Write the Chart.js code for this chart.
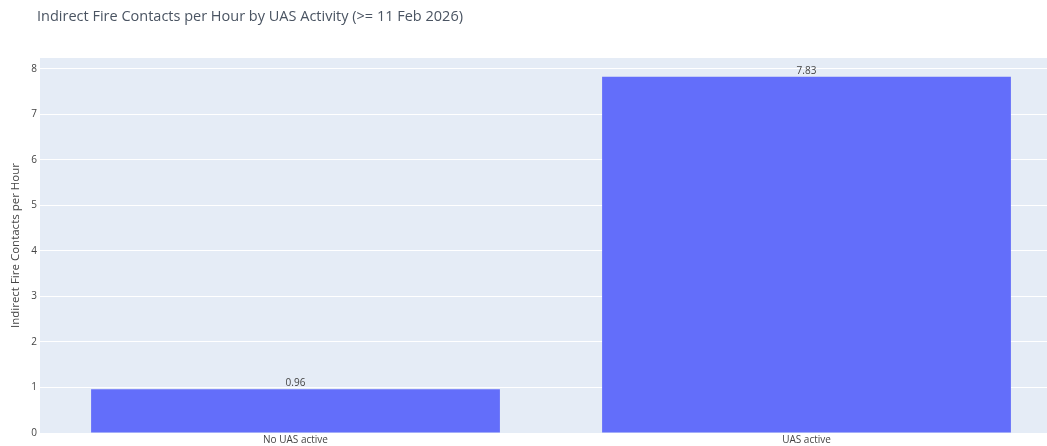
<!DOCTYPE html>
<html>
<head>
<meta charset="utf-8">
<script src="https://cdn.jsdelivr.net/npm/chart.js@4"></script>
<style>
  html, body { margin: 0; padding: 0; background: #fff; overflow: hidden; }
  #clip { width: 1047px; height: 446px; overflow: hidden; }
  /* plot area runs past the right edge of the picture, as in the reference */
  #wrap { width: 1062px; height: 446px; position: relative; }
</style>
</head>
<body>
<div id="clip"><div id="wrap"><canvas id="chart"></canvas></div></div>
<script>
const titleText = 'Indirect Fire Contacts per Hour by UAS Activity (>= 11 Feb 2026)';
const yTitle = 'Indirect Fire Contacts per Hour';
const categories = ['No UAS active', 'UAS active'];
const rates = [0.96, 7.83];
const rateLabels = ['0.96', '7.83'];

const FONT = '"Open Sans", verdana, arial, sans-serif';

// plot background + title + bar text
const plotlyLook = {
  id: 'plotlyLook',
  beforeDraw(chart) {
    const { ctx, chartArea: a } = chart;
    ctx.save();
    ctx.fillStyle = '#E5ECF6';
    ctx.fillRect(a.left, a.top, a.right - a.left, a.bottom - a.top);
    ctx.restore();
  },
  afterDraw(chart) {
    const ctx = chart.ctx;
    ctx.save();
    ctx.fillStyle = '#4a5462';
    ctx.font = '14.5px ' + FONT;
    ctx.textBaseline = 'middle';
    ctx.textAlign = 'left';
    ctx.fillText(titleText, 37, 17);

    ctx.fillStyle = '#444';
    ctx.font = '10px ' + FONT;
    ctx.textAlign = 'center';
    ctx.textBaseline = 'bottom';
    chart.getDatasetMeta(0).data.forEach((bar, i) => {
      ctx.fillText(rateLabels[i], bar.x, bar.y - 1);
    });
    ctx.restore();
  }
};

new Chart(document.getElementById('chart'), {
  type: 'bar',
  data: {
    labels: categories,
    datasets: [{
      data: rates,
      backgroundColor: '#636EFA',
      borderWidth: 0,
      barPercentage: 0.8,
      categoryPercentage: 1
    }]
  },
  options: {
    responsive: true,
    maintainAspectRatio: false,
    animation: false,
    layout: { padding: { top: 58, right: 0, bottom: 0, left: 0 } },
    plugins: {
      legend: { display: false },
      tooltip: { enabled: false }
    },
    scales: {
      x: {
        grid: { display: false, drawTicks: false },
        border: { display: false },
        ticks: { color: '#444', font: { family: FONT, size: 10 }, padding: 1 },
        afterFit(scale) { scale.height = 13; }
      },
      y: {
        min: 0,
        max: 8.24,
        afterBuildTicks(scale) {
          scale.ticks = [0, 1, 2, 3, 4, 5, 6, 7, 8].map(v => ({ value: v }));
        },
        grid: { color: '#ffffff', lineWidth: 1, drawTicks: false },
        border: { display: false },
        ticks: { color: '#444', font: { family: FONT, size: 10 }, padding: 3 },
        title: {
          display: true,
          text: yTitle,
          color: '#444',
          font: { family: FONT, size: 11.5 },
          padding: { top: 9, bottom: 0 }
        },
        afterFit(scale) { scale.width = 40; }
      }
    }
  },
  plugins: [plotlyLook]
});
</script>
</body>
</html>
